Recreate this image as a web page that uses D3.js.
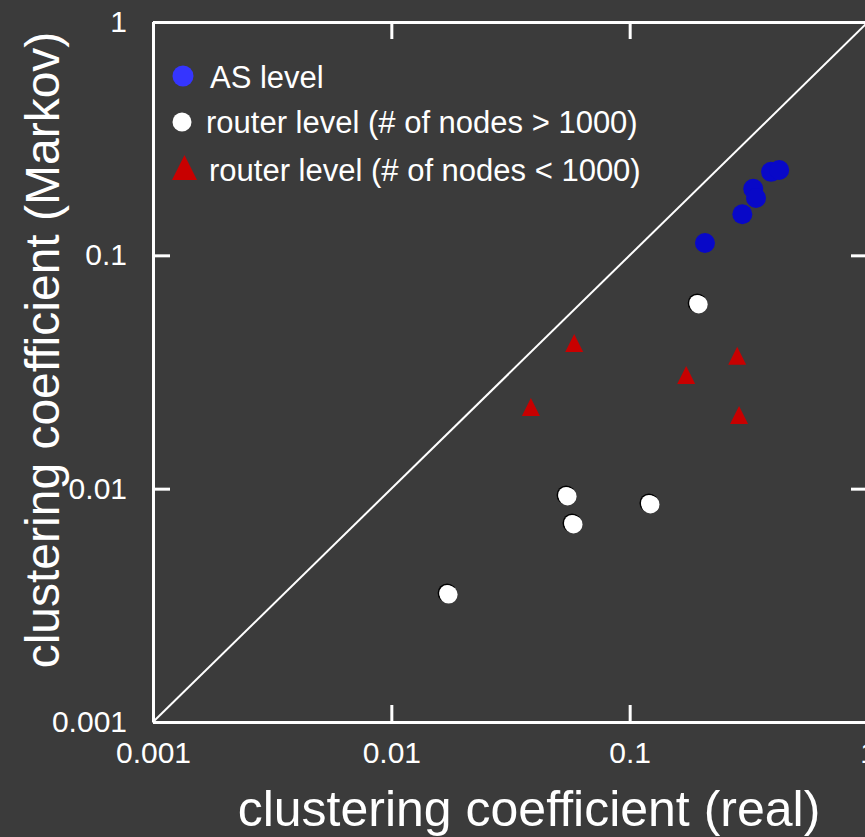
<!DOCTYPE html>
<html>
<head>
<meta charset="utf-8">
<script src="https://cdn.jsdelivr.net/npm/d3@7"></script>
<style>
  body { margin: 0; background: #3b3b3b; }
  text { font-family: "Liberation Sans", Arial, sans-serif; fill: #fff; }
</style>
</head>
<body>
<div id="scatter_area"></div>
<script>
// data: [real, markov]
const asLevel = [[0.207, 0.113], [0.297, 0.150], [0.330, 0.193], [0.339, 0.176], [0.392, 0.228], [0.424, 0.232]];
const routerBig = [[0.192, 0.0625], [0.0541, 0.0094], [0.0573, 0.00713], [0.1205, 0.00869], [0.01714, 0.00357]];
const routerSmall = [[0.0585, 0.0421], [0.0385, 0.0224], [0.1726, 0.0307], [0.2825, 0.0371], [0.2878, 0.0207]];
const tickValues = [0.001, 0.01, 0.1, 1];
const tickLabels = ["0.001", "0.01", "0.1", "1"];
const legendLabels = ["AS level", "router level (# of nodes > 1000)", "router level (# of nodes < 1000)"];

// set the dimensions of the graph
var width = 865, height = 837;

const svg = d3.select("#scatter_area")
.append("svg")
.attr("width", width)
.attr("height", height);

// scales
const x = d3.scaleLog()
.domain([0.001, 1])
.range([153, 868]);
const y = d3.scaleLog()
.domain([0.001, 1])
.range([722, 22]);

const fmt = function (d) { return tickLabels[tickValues.indexOf(d)]; };

function styleAxis(g) {
  g.select(".domain").attr("stroke", "#fff").attr("stroke-width", 3);
  g.selectAll(".tick line").attr("stroke", "#fff").attr("stroke-width", 3);
  g.selectAll(".tick text").attr("fill", "#fff").style("font-size", "30px")
  .style("font-family", "'Liberation Sans', Arial, sans-serif");
}

// triangle of width w and height h centred on 0,0
function triangle(w, h) {
  return `M0,${-h / 2}L${w / 2},${h / 2}L${-w / 2},${h / 2}Z`;
}

// Add X axis
svg.append("g")
.attr("transform", `translate(0, ${y(0.001)})`)
.call(d3.axisBottom(x).tickValues(tickValues).tickFormat(fmt).tickSize(-17).tickSizeOuter(0).tickPadding(20))
.call(styleAxis);
svg.append("g")
.attr("transform", `translate(0, ${y(1)})`)
.call(d3.axisTop(x).tickValues(tickValues).tickFormat("").tickSize(-17).tickSizeOuter(0))
.call(styleAxis);

// Add Y axis
svg.append("g")
.attr("transform", `translate(${x(0.001)}, 0)`)
.call(d3.axisLeft(y).tickValues(tickValues).tickFormat(fmt).tickSize(-17).tickSizeOuter(0).tickPadding(26))
.call(styleAxis);
svg.append("g")
.attr("transform", `translate(${x(1)}, 0)`)
.call(d3.axisRight(y).tickValues(tickValues).tickFormat("").tickSize(-17).tickSizeOuter(0))
.call(styleAxis);

// diagonal y = x
svg.append("line")
.attr("x1", x(0.001)).attr("y1", y(0.001))
.attr("x2", x(1)).attr("y2", y(1))
.attr("stroke", "#fff")
.attr("stroke-width", 2);

// axis titles
svg.append("text")
.attr("x", 529)
.attr("y", 826)
.attr("text-anchor", "middle")
.style("font-size", "50px")
.text("clustering coefficient (real)");
svg.append("text")
.attr("transform", "translate(59, 350) rotate(-90)")
.attr("text-anchor", "middle")
.style("font-size", "48px")
.text("clustering coefficient (Markov)");

// Add dots
svg.append("g")
.selectAll("circle")
.data(asLevel)
.join("circle")
.attr("cx", function (d) { return x(d[0]); })
.attr("cy", function (d) { return y(d[1]); })
.attr("r", 10)
.style("fill", "#0808c8");

const big = svg.append("g")
.selectAll("g")
.data(routerBig)
.join("g")
.attr("transform", function (d) { return `translate(${x(d[0])}, ${y(d[1])})`; });
big.append("circle").attr("r", 9.5).style("fill", "#000");
big.append("circle").attr("cx", 1.5).attr("cy", 1.5).attr("r", 9).style("fill", "#fff");
big.append("circle").attr("r", 8).style("fill", "#fff");

svg.append("g")
.selectAll("path")
.data(routerSmall)
.join("path")
.attr("d", triangle(18, 18))
.attr("transform", function (d) { return `translate(${x(d[0])}, ${y(d[1])})`; })
.style("fill", "#c80000");

// legend
svg.append("circle").attr("cx", 183).attr("cy", 76).attr("r", 10.5).style("fill", "#3535ff");
svg.append("circle").attr("cx", 182).attr("cy", 122).attr("r", 9.5).style("fill", "#fff");
svg.append("path").attr("d", triangle(25, 25)).attr("transform", "translate(184.5, 167.5)").style("fill", "#c80000");

svg.append("text").attr("x", 210).attr("y", 88).style("font-size", "31px").text(legendLabels[0]);
svg.append("text").attr("x", 206).attr("y", 133).style("font-size", "31px").text(legendLabels[1]);
svg.append("text").attr("x", 209).attr("y", 181).style("font-size", "31px").text(legendLabels[2]);
</script>
</body>
</html>
